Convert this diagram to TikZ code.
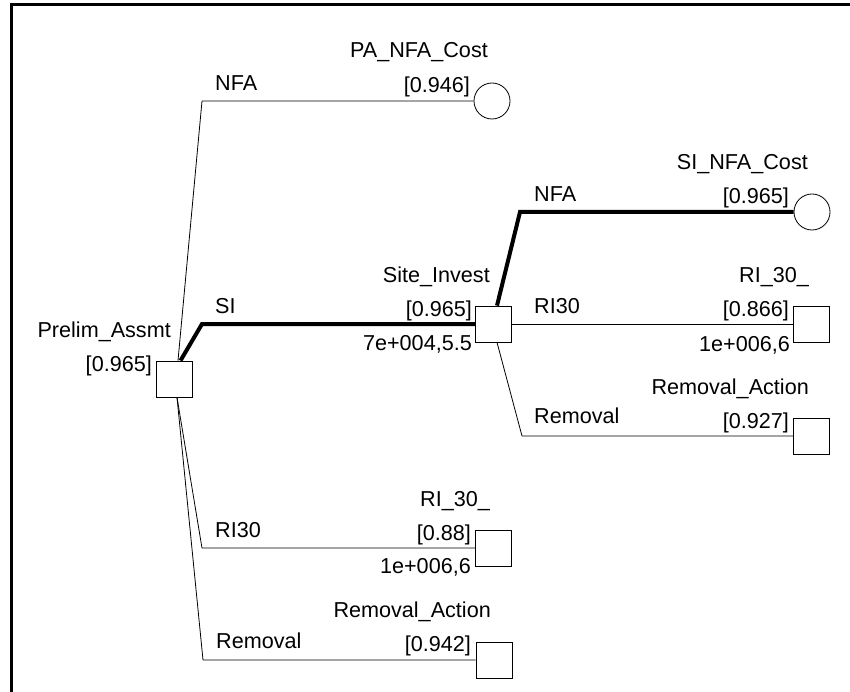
\documentclass[tikz,border=0pt]{standalone}
\usepackage{fontspec}
\setmainfont{Liberation Sans}
\begin{document}
\begin{tikzpicture}[x=1pt,y=-1pt,
  dec/.style={draw,line width=0.8pt,rectangle,minimum size=36pt,inner sep=0pt,fill=white},
  chance/.style={draw,line width=0.8pt,circle,minimum size=36pt,inner sep=0pt,fill=white},
  lbl/.style={inner sep=0pt,font=\fontsize{21.6}{24}\selectfont},
  rlbl/.style={lbl,anchor=base east},
  blbl/.style={lbl,anchor=base west},
  thinb/.style={line width=0.8pt},
  thickb/.style={line width=4pt}]
\useasboundingbox (0,0) rectangle (850,692);
\draw[line width=3pt] (11,692) -- (11,5) -- (850,5);

% nodes
\node[dec] (pa) at (174.5,379) {};
\node[dec] (si) at (493.5,324) {};
\node[chance] (panfa) at (492,101) {};
\node[chance] (sinfa) at (812,212) {};
\node[dec] (ria) at (811.5,324) {};
\node[dec] (rema) at (811.5,436) {};
\node[dec] (rib) at (493.5,548) {};
\node[dec] (remb) at (494,660) {};

% corner coordinates
\coordinate (c1) at (202,101);
\coordinate (c2) at (202,324);
\coordinate (c3) at (202,548);
\coordinate (c4) at (203,660);
\coordinate (c5) at (520,212);
\coordinate (c6) at (522,436);

% branches
\draw[thinb,line join=round] ([xshift=3.5pt]pa.north) -- (c1) -- (panfa.west);
\draw[thinb,line join=round] ([xshift=2.5pt]pa.south) -- (c3) -- (rib.west);
\draw[thinb,line join=round] ([xshift=2.5pt]pa.south) -- (c4) -- (remb.west);
\draw[thinb] (si.east) -- (ria.west);
\draw[thinb,line join=round] ([xshift=3.5pt]si.south) -- (c6) -- (rema.west);
\draw[thickb,line join=miter] ([xshift=6pt]pa.north) -- (c2) -- (si.west);
\draw[thickb,line join=miter] ([xshift=3.5pt]si.north) -- (c5) -- (sinfa.west);

% redraw nodes on top
\node[dec] at (pa) {};
\node[dec] at (si) {};

% node labels
\node[rlbl] (pan) at (171,337) {Prelim\_Assmt};
\node[rlbl] (pav) at (152,371) {[0.965]};
\node[rlbl] (sin) at (490,283) {Site\_Invest};
\node[rlbl] (siv) at (472,316) {[0.965]};
\node[rlbl] (siu) at (472,350) {7e+004,5.5};
\node[rlbl] (pnn) at (488,58) {PA\_NFA\_Cost};
\node[rlbl] (pnv) at (470,93) {[0.946]};
\node[rlbl] (snn) at (808,170) {SI\_NFA\_Cost};
\node[rlbl] (snv) at (789,204) {[0.965]};
\node[rlbl] (ran) at (809,282) {RI\_30\_};
\node[rlbl] (rav) at (789,316) {[0.866]};
\node[rlbl] (rau) at (790,351) {1e+006,6};
\node[rlbl] (ran2) at (809,394) {Removal\_Action};
\node[rlbl] (rav2) at (789,428) {[0.927]};
\node[rlbl] (rbn) at (490,506) {RI\_30\_};
\node[rlbl] (rbv) at (471,540) {[0.88]};
\node[rlbl] (rbu) at (471,573) {1e+006,6};
\node[rlbl] (rbn2) at (491,617) {Removal\_Action};
\node[rlbl] (rbv2) at (471,651) {[0.942]};

% branch labels
\node[blbl] (b1) at (215,91) {NFA};
\node[blbl] (b2) at (215,313) {SI};
\node[blbl] (b3) at (215,537) {RI30};
\node[blbl] (b4) at (216,648) {Removal};
\node[blbl] (b5) at (534,202) {NFA};
\node[blbl] (b6) at (534,313) {RI30};
\node[blbl] (b7) at (534,423) {Removal};
\end{tikzpicture}
\end{document}
